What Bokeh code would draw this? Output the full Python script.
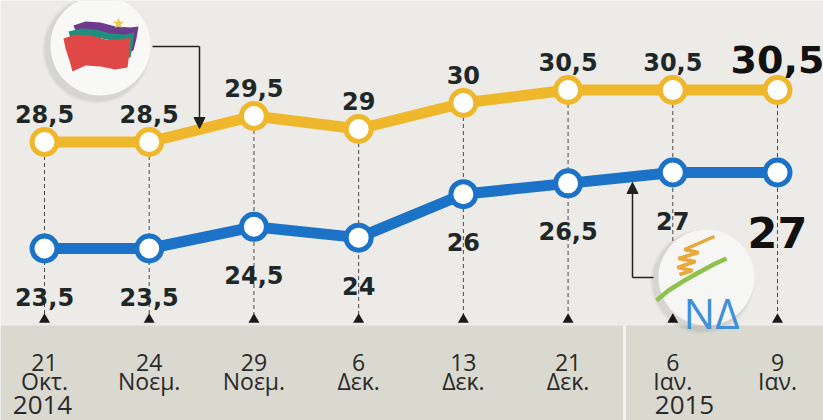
from bokeh.plotting import figure
from bokeh.models import Range1d, Arrow, NormalHead
from bokeh.embed import file_html
from bokeh.resources import INLINE
from bokeh.core.properties import value

# ---------------- data ----------------
days = ["21", "24", "29", "6", "13", "21", "6", "9"]
months = ["Οκτ.", "Νοεμ.", "Νοεμ.", "Δεκ.", "Δεκ.", "Δεκ.", "Ιαν.", "Ιαν."]
years = ["2014", "2015"]
syriza = [28.5, 28.5, 29.5, 29, 30, 30.5, 30.5, 30.5]
nd = [23.5, 23.5, 24.5, 24, 26, 26.5, 27, 27]

# ---------------- layout ----------------
W, H = 823, 420
FONT = value("Open Sans")
VFONT = value("DejaVu Sans")
BG = "#ecebe7"
BAND = "#d9d9d0"
YEL = "#efb82c"
BLUE = "#1b72c6"
INK = "#1f2828"

idx = list(range(len(days)))

def fmt(v):
    return f"{v:g}".replace(".", ",")

def span(v0, p0, v1, p1, size, flip=True):
    """range so that value v0 sits at pixel p0 and v1 at p1"""
    if flip:  # vertical, pixels from top
        k = (p0 - p1) / (v1 - v0)
        return (v0 - (size - p0) / k, v1 + p1 / k)
    k = (p1 - p0) / (v1 - v0)
    return (v0 - p0 / k, v1 + (size - p1) / k)

X_RANGE = span(0, 44, 7, 777, W, flip=False)
ND_RANGE = span(23.5, 248, 27, 172, H)
SYR_RANGE = span(28.5, 141.5, 30.5, 89.5, H)

def page_to_syr(py):
    s, e = SYR_RANGE
    return s + (H - py) * (e - s) / H

p = figure(width=W, height=H, output_backend="svg", toolbar_location=None,
           x_range=Range1d(*X_RANGE), y_range=Range1d(*ND_RANGE),
           x_axis_location=None, y_axis_location=None, min_border=0,
           background_fill_color=BG, border_fill_color=BG, outline_line_color=None)
p.extra_y_ranges = {"syr": Range1d(*SYR_RANGE), "px": Range1d(H, 0)}
p.extra_x_ranges = {"px": Range1d(0, W)}
p.grid.visible = False

PX = dict(x_range_name="px", y_range_name="px")

# bottom band + divider
p.quad(left=0, right=W, top=325, bottom=H, fill_color=BAND, line_color=None, **PX)
p.segment(x0=624, y0=325, x1=624, y1=H, line_color="#f3f3f0", line_width=3, **PX)

# dashed drop lines and triangles
p.segment(x0=idx, y0=syriza, x1=idx, y1=[page_to_syr(314)] * len(idx),
          y_range_name="syr", line_color="#4a4a4a", line_width=1, line_dash="4 3")
p.scatter(x=idx, y=[319] * len(idx), marker="triangle", size=11,
          fill_color="#1a1a1a", line_color=None, y_range_name="px")

# tick labels
p.text(x=idx, y=[362] * len(idx), text=days, text_align="center", text_baseline="alphabetic",
       text_font=FONT, text_font_size="23px", text_color="#2a2a2a", y_range_name="px")
p.text(x=idx, y=[380] * len(idx), text=months, text_align="center", text_baseline="alphabetic",
       text_font=FONT, text_font_size="23px", text_color="#2a2a2a", y_range_name="px")
p.text(x=[42, 684], y=[404, 404], text=years, text_align="center", text_baseline="alphabetic",
       text_font=FONT, text_font_size="26px", text_color="#2a2a2a", **PX)

# series lines
p.line(idx, syriza, y_range_name="syr", line_color=YEL, line_width=11)
p.scatter(idx, syriza, y_range_name="syr", size=25, fill_color="white",
          line_color=YEL, line_width=5)
p.line(idx, nd, line_color=BLUE, line_width=11)
p.scatter(idx, nd, size=25, fill_color="white", line_color=BLUE, line_width=5)

# value labels
p.text(x=idx[:-1], y=syriza[:-1], text=[fmt(v) for v in syriza[:-1]], y_range_name="syr",
       text_align="center", text_baseline="alphabetic", y_offset=-28,
       text_font=VFONT, text_font_style="bold", text_font_size="24px", text_color=INK)
p.text(x=idx[-1:], y=syriza[-1:], text=[fmt(syriza[-1])], y_range_name="syr",
       text_align="center", text_baseline="alphabetic", y_offset=-31,
       text_font=VFONT, text_font_style="bold", text_font_size="38px", text_color="#111111")
p.text(x=idx[:-1], y=nd[:-1], text=[fmt(v) for v in nd[:-1]],
       text_align="center", text_baseline="alphabetic", y_offset=48,
       text_font=VFONT, text_font_style="bold", text_font_size="24px", text_color=INK)
p.text(x=idx[-1:], y=nd[-1:], text=[fmt(nd[-1])],
       text_align="center", text_baseline="alphabetic", y_offset=60,
       text_font=VFONT, text_font_style="bold", text_font_size="43px", text_color="#111111")

# ---- SYRIZA logo ----
for r, a in [(108, 0.04), (104, 0.05)]:
    p.scatter(x=[96], y=[49], size=r, fill_color="#000000", fill_alpha=a, line_color=None, **PX)
p.scatter(x=[100], y=[45], size=100, fill_color="#f8f8f6", line_color=None, **PX)
p.patch(x=[73, 85, 100, 115, 130, 138, 136, 133, 128, 115, 100, 85, 76],
        y=[25, 21, 22, 26, 27, 26, 38, 50, 52, 36, 32, 30, 33],
        fill_color="#6c3b8e", line_color=None, **PX)
p.patch(x=[68, 80, 95, 110, 125, 134, 132, 130, 125, 112, 96, 82, 70],
        y=[31, 28, 29, 33, 34, 32, 45, 57, 58, 40, 37, 35, 38],
        fill_color="#20907c", line_color=None, **PX)
p.patch(x=[63, 75, 90, 105, 120, 130, 129, 127, 115, 100, 85, 72, 69, 65],
        y=[38, 34, 35, 39, 39, 37, 52, 67, 69, 66, 65, 71, 60, 48],
        fill_color="#e04848", line_color=None, **PX)
p.scatter(x=[118], y=[23], marker="star", size=12, fill_color="#e8c94a", line_color=None, **PX)

# SYRIZA arrow
p.line(x=[152, 199], y=[46, 46], line_color="#222222", line_width=1.5, **PX)
p.add_layout(Arrow(end=NormalHead(size=11, fill_color="#222222", line_color="#222222"),
                   x_start=199, y_start=46, x_end=199, y_end=128,
                   line_color="#222222", line_width=1.5, **PX))

# ---- ND logo ----
for r, a in [(104, 0.04), (100, 0.05)]:
    p.scatter(x=[702], y=[281], size=r, fill_color="#000000", fill_alpha=a, line_color=None, **PX)
p.scatter(x=[706], y=[277], size=96, fill_color="#f6f6f4", line_color=None, **PX)
p.line(x=[714, 684, 698, 678, 695, 677, 692, 679],
       y=[236, 249, 252, 258, 261, 267, 270, 274],
       line_color="#e8a83a", line_width=3.5, **PX)
p.line(x=[656, 668, 684, 700, 715, 726], y=[300, 290, 280, 271, 263, 258],
       line_color="#8fc24c", line_width=4.5, **PX)
p.text(x=[711], y=[312], text=["ΝΔ"], text_align="center", text_baseline="alphabetic",
       text_font=FONT, text_font_size="42px", text_color="#3d90d8", **PX)

# ND arrow
p.line(x=[653, 632], y=[277, 277], line_color="#222222", line_width=1.5, **PX)
p.add_layout(Arrow(end=NormalHead(size=11, fill_color="#222222", line_color="#222222"),
                   x_start=632, y_start=277, x_end=632, y_end=182,
                   line_color="#222222", line_width=1.5, **PX))

open("out.html", "w").write(file_html(p, INLINE))
